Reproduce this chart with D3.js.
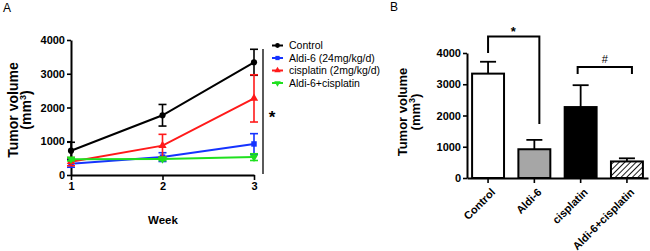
<!DOCTYPE html>
<html>
<head>
<meta charset="utf-8">
<script src="https://cdn.jsdelivr.net/npm/d3@7"></script>
<style>
  body { margin: 0; background: #fff; }
  svg { display: block; font-family: "Liberation Sans", Arial, sans-serif; }
</style>
</head>
<body>
<div id="chart"></div>
<script>
// ---- data ----
const weeks = [1, 2, 3];
const groupNames = ["Control", "Aldi-6 (24mg/kg/d)", "cisplatin (2mg/kg/d)", "Aldi-6+cisplatin"];
const controlMean = [720, 1770, 3340];
const controlErr = [250, 320, 385];
const aldiMean = [330, 530, 920];
const aldiErr = [100, 130, 305];
const cisMean = [395, 870, 2270];
const cisErr = [120, 335, 700];
const comboMean = [470, 475, 530];
const comboErr = [50, 50, 100];

const barCats = ["Control", "Aldi-6", "cisplatin", "Aldi-6+cisplatin"];
const barMean = [3340, 920, 2270, 530];
const barErr = [380, 300, 700, 100];

const yTicks = [0, 1000, 2000, 3000, 4000];

const width = 650, height = 251;

const svg = d3.select("#chart").append("svg")
  .attr("width", width)
  .attr("height", height);

const defs = svg.append("defs");
const pat = defs.append("pattern")
  .attr("id", "hatch")
  .attr("patternUnits", "userSpaceOnUse")
  .attr("width", 4).attr("height", 4)
  .attr("patternTransform", "rotate(45)");
pat.append("rect").attr("width", 4).attr("height", 4).attr("fill", "#fff");
pat.append("line").attr("x1", 0).attr("y1", 0).attr("x2", 0).attr("y2", 4)
  .attr("stroke", "#000").attr("stroke-width", 1.8);

function styleAxis(a) {
  a.select(".domain").attr("stroke-width", 2);
  a.selectAll(".tick line").attr("stroke-width", 1.6);
  a.selectAll("text").attr("font-size", 11).attr("font-weight", "bold")
    .attr("fill", "#000").attr("font-family", "Liberation Sans, Arial, sans-serif");
}

// ---------- Panel A ----------
const xA = d3.scaleLinear().domain([1, 3]).range([71, 254]);
const yA = d3.scaleLinear().domain([0, 4000]).range([175, 40]);

svg.append("text").attr("x", 3).attr("y", 12).attr("font-size", 12).text("A");

const axA = svg.append("g").attr("transform", "translate(71,0)")
  .call(d3.axisLeft(yA).tickValues(yTicks).tickFormat(d3.format("d")).tickSize(4).tickPadding(2).tickSizeOuter(0));
const axAx = svg.append("g").attr("transform", "translate(0,175)")
  .call(d3.axisBottom(xA).tickValues(weeks).tickFormat(d3.format("d")).tickSize(5).tickPadding(2).tickSizeOuter(0));
styleAxis(axA);
styleAxis(axAx);

svg.append("text").attr("x", 163).attr("y", 224).attr("text-anchor", "middle")
  .attr("font-size", 11.5).attr("font-weight", "bold").text("Week");

const titleA = svg.append("text").attr("transform", "translate(18,110) rotate(-90)")
  .attr("text-anchor", "middle").attr("font-size", 14).attr("font-weight", "bold");
titleA.append("tspan").attr("x", 0).attr("dy", 0).text("Tumor volume");
titleA.append("tspan").attr("x", 0).attr("dy", 13).text("(mm");
titleA.append("tspan").attr("dy", -5).attr("font-size", 9).text("3");
titleA.append("tspan").attr("dy", 5).text(")");

const series = [
  { name: groupNames[0], mean: controlMean, err: controlErr, color: "#000000", shape: d3.symbolCircle },
  { name: groupNames[1], mean: aldiMean, err: aldiErr, color: "#1533ff", shape: d3.symbolSquare },
  { name: groupNames[2], mean: cisMean, err: cisErr, color: "#ff1a1a", shape: d3.symbolTriangle },
  { name: groupNames[3], mean: comboMean, err: comboErr, color: "#1fe01f", shape: "invTriangle" }
];

function marker(g, s, size) {
  if (s.shape === "invTriangle") {
    g.append("path").attr("d", d3.symbol(d3.symbolTriangle, size)()).attr("transform", "rotate(180)")
      .attr("fill", s.color);
  } else {
    g.append("path").attr("d", d3.symbol(s.shape, size)()).attr("fill", s.color);
  }
}

const line = d3.line().x((d, i) => xA(weeks[i])).y(d => yA(d));
const plotA = svg.append("g");
series.forEach(s => {
  const g = plotA.append("g");
  // error bars
  weeks.forEach((w, i) => {
    const x = xA(w), y1 = yA(s.mean[i] + s.err[i]), y0 = yA(Math.max(0, s.mean[i] - s.err[i]));
    g.append("line").attr("x1", x).attr("x2", x).attr("y1", y1).attr("y2", y0)
      .attr("stroke", s.color).attr("stroke-width", 1.6);
    [y1, y0].forEach(yy => g.append("line").attr("x1", x - 4).attr("x2", x + 4)
      .attr("y1", yy).attr("y2", yy).attr("stroke", s.color).attr("stroke-width", 1.6));
  });
  g.append("path").datum(s.mean).attr("d", line).attr("fill", "none")
    .attr("stroke", s.color).attr("stroke-width", 2);
  weeks.forEach((w, i) => {
    const m = g.append("g").attr("transform", `translate(${xA(w)},${yA(s.mean[i])})`);
    marker(m, s, 30);
  });
});

// legend
const legend = svg.append("g");
series.forEach((s, i) => {
  const y = 45.5 + i * 12.5;
  const r = legend.append("g").attr("transform", `translate(0,${y})`);
  r.append("line").attr("x1", 272).attr("x2", 283).attr("stroke", s.color).attr("stroke-width", 2);
  const m = r.append("g").attr("transform", "translate(277.5,0)");
  marker(m, s, 18);
  r.append("text").attr("x", 289).attr("y", 3.5).attr("font-size", 10.5).text(s.name);
});

// significance line for panel A
svg.append("line").attr("x1", 263).attr("x2", 263).attr("y1", 49).attr("y2", 174)
  .attr("stroke", "#000").attr("stroke-width", 1.3);
svg.append("text").attr("x", 272).attr("y", 123).attr("text-anchor", "middle")
  .attr("font-size", 17).attr("font-weight", "bold").text("*");

// ---------- Panel B ----------
const xB = d3.scaleBand().domain(barCats).range([467, 648]).paddingInner(0.31).paddingOuter(0.11);
const yB = d3.scaleLinear().domain([0, 4000]).range([178, 53]);

svg.append("text").attr("x", 390).attr("y", 11).attr("font-size", 12).text("B");

const fills = ["#ffffff", "#a6a6a6", "#000000", "url(#hatch)"];
const barsG = svg.append("g");
barCats.forEach((c, i) => {
  const cx = xB(c) + xB.bandwidth() / 2;
  barsG.append("line").attr("x1", cx).attr("x2", cx)
    .attr("y1", yB(barMean[i])).attr("y2", yB(barMean[i] + barErr[i]))
    .attr("stroke", "#000").attr("stroke-width", 1.8);
  barsG.append("line").attr("x1", cx - 8).attr("x2", cx + 8)
    .attr("y1", yB(barMean[i] + barErr[i])).attr("y2", yB(barMean[i] + barErr[i]))
    .attr("stroke", "#000").attr("stroke-width", 1.8);
});
barsG.selectAll("rect").data(barCats).join("rect")
  .attr("x", d => xB(d))
  .attr("y", (d, i) => yB(barMean[i]))
  .attr("width", xB.bandwidth())
  .attr("height", (d, i) => yB(0) - yB(barMean[i]))
  .attr("fill", (d, i) => fills[i])
  .attr("stroke", "#000").attr("stroke-width", 2);

const axB = svg.append("g").attr("transform", "translate(467,0)")
  .call(d3.axisLeft(yB).tickValues(yTicks).tickFormat(d3.format("d")).tickSize(4).tickPadding(2).tickSizeOuter(0));
const axBx = svg.append("g").attr("transform", "translate(0,178)")
  .call(d3.axisBottom(xB).tickSize(5).tickPadding(2).tickSizeOuter(0));
styleAxis(axB);
styleAxis(axBx);
axBx.selectAll("text")
  .attr("text-anchor", "end")
  .attr("dy", null)
  .attr("transform", "translate(3,10) rotate(-45)");

const titleB = svg.append("text").attr("transform", "translate(407,112) rotate(-90)")
  .attr("text-anchor", "middle").attr("font-size", 13).attr("font-weight", "bold");
titleB.append("tspan").attr("x", 0).attr("dy", 0).text("Tumor volume");
titleB.append("tspan").attr("x", 0).attr("dy", 13).text("(mm");
titleB.append("tspan").attr("dy", -5).attr("font-size", 9).text("3");
titleB.append("tspan").attr("dy", 5).text(")");

// significance brackets
const cC = xB("Control") + xB.bandwidth() / 2;
const cA = xB("Aldi-6") + xB.bandwidth() / 2 + 5;
const cCis = xB("cisplatin") + xB.bandwidth() / 2 - 3;
const cCombo = xB("Aldi-6+cisplatin") + xB.bandwidth() / 2 + 5;
svg.append("path").attr("d", `M${cC},53 V36.5 H${cA} V124`)
  .attr("fill", "none").attr("stroke", "#000").attr("stroke-width", 2);
svg.append("text").attr("x", (cC + cA) / 2 - 0.5).attr("y", 36).attr("text-anchor", "middle")
  .attr("font-size", 13).attr("font-weight", "bold").text("*");
svg.append("path").attr("d", `M${cCis},74 V67 H${cCombo} V74`)
  .attr("fill", "none").attr("stroke", "#000").attr("stroke-width", 2);
svg.append("text").attr("x", (cCis + cCombo) / 2).attr("y", 63).attr("text-anchor", "middle")
  .attr("font-size", 11).text("#");
</script>
</body>
</html>
